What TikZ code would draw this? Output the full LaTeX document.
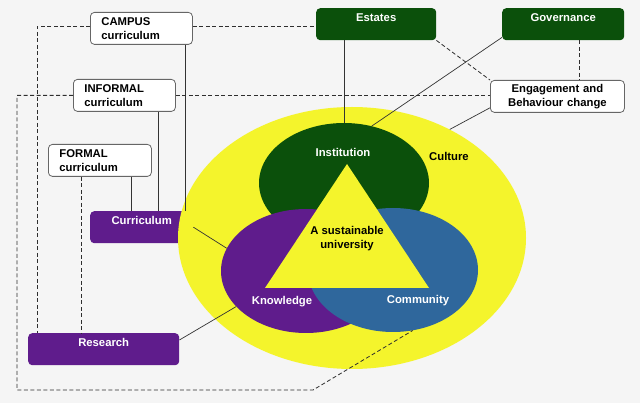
\documentclass[tikz,border=0pt]{standalone}
\usepackage{fontspec}
\setmainfont{Liberation Sans}
\usetikzlibrary{shapes.geometric,calc}
\definecolor{bgc}{HTML}{F5F5F5}
\definecolor{dkg}{HTML}{0B500B}
\definecolor{pur}{HTML}{5F1C8C}
\definecolor{blu}{HTML}{2F679C}
\definecolor{ylw}{HTML}{F4F42C}
\definecolor{lnc}{HTML}{333333}
\definecolor{boxgray}{HTML}{666666}
\begin{document}
\begin{tikzpicture}[x=1pt,y=-1pt,
  txt/.style={font=\fontsize{11.3}{14}\selectfont\bfseries},
  wbox/.style={txt, draw=boxgray, fill=white, rounded corners=4pt, line width=0.8pt,
    inner xsep=11pt, inner ysep=0pt, align=left, minimum height=32pt, anchor=north west},
  cbox/.style={txt, text=white, rounded corners=4pt, inner xsep=0pt, inner ysep=5pt,
    text height=8pt, text depth=14pt, align=center, anchor=north west},
  ell/.style={ellipse, inner sep=0pt, draw=none},
  lbl/.style={txt, inner sep=0pt},
  ln/.style={draw=lnc, line width=0.7pt},
  dsh/.style={draw=lnc!90!black, line width=0.8pt, dash pattern=on 4pt off 2.5pt}]
\useasboundingbox (0,0) rectangle (640,403);
\fill[bgc] (0,0) rectangle (640,403);

% boxes
\node[wbox, text width=80pt] (campus) at (90,12) {CAMPUS\\curriculum};
\node[wbox, text width=80pt] (inf) at (73,79) {INFORMAL\\curriculum};
\node[wbox, text width=81pt] (form) at (48,144) {FORMAL\\curriculum};
\node[cbox, fill=dkg, text width=120pt] (est) at (316,8) {Estates};
\node[cbox, fill=dkg, text width=122pt] (gov) at (502,8) {Governance};
\node[wbox, text width=134pt, inner xsep=0pt, align=center] (eng) at (490,80) {Engagement and\\Behaviour change};
\node[cbox, fill=pur, text width=103pt] (curr) at (90,211) {Curriculum};
\node[cbox, fill=pur, text width=151pt] (res) at (28,333) {Research};

% ellipses
\node[ell, fill=ylw, minimum width=348pt, minimum height=262pt] (culture) at (352,238) {};
\node[ell, fill=dkg, minimum width=170pt, minimum height=120pt] (inst) at (344,183) {};
\node[ell, fill=pur, minimum width=170pt, minimum height=124pt] (know) at (306,271) {};
\node[ell, fill=blu, minimum width=170pt, minimum height=124pt] (comm) at (393,270) {};
\fill[ylw] (347,164) -- (265,288) -- (429,288) -- cycle;

% labels
\node[lbl, text=white] (linst) at (343,152) {Institution};
\node[lbl, text=black] (lcult) at (449,156) {Culture};
\node[lbl, text=white] (lknow) at (282,302) {Knowledge};
\node[lbl, text=white] (lcomm) at (418,301) {Community};
\node[lbl, text=black, align=center] (lsu) at (347,239) {A sustainable\\university};

% solid connectors
\draw[ln] (est.south -| inst.north) -- (inst.north);
\draw[ln] ([yshift=3pt]gov.south west) -- (inst.64);
\draw[ln] ([yshift=5pt]eng.south west) -- (culture.48);
\coordinate (f2) at ([xshift=83pt]form.south west);
\coordinate (i2) at ([xshift=85pt]inf.south west);
\coordinate (c2) at ([xshift=95pt]campus.south west);
\draw[ln] (f2) -- (f2 |- curr.north);
\draw[ln] (i2) -- (i2 |- curr.north);
\draw[ln] (c2) -- (c2 |- curr.north);
\draw[ln] (curr.east) -- (know.164);
\draw[ln] ([yshift=-7pt]res.north east) -- (know.207);

% dashed connectors
\draw[dsh] (est.south east) -- (eng.north west);
\coordinate (gd) at ([xshift=22pt]eng.north);
\draw[dsh] (gd |- gov.south) -- (gd);
\draw[dsh] ([yshift=2pt]campus.east) -- ([yshift=2pt]campus.east -| est.west);
\coordinate (cl) at ([xshift=9pt]res.north west);
\draw[dsh] ([yshift=2pt]campus.west) -| (cl);
\draw[dsh] (inf.east) -- (inf.east -| eng.west);
\coordinate (il) at (17,390);
\coordinate (ib) at (313,390);
\draw[dsh] (inf.west) -| (il) -- (ib) -- (comm.288);
\coordinate (fx) at ([xshift=33pt]form.south west);
\draw[dsh] (fx) -- (fx |- res.north);
\end{tikzpicture}
\end{document}
